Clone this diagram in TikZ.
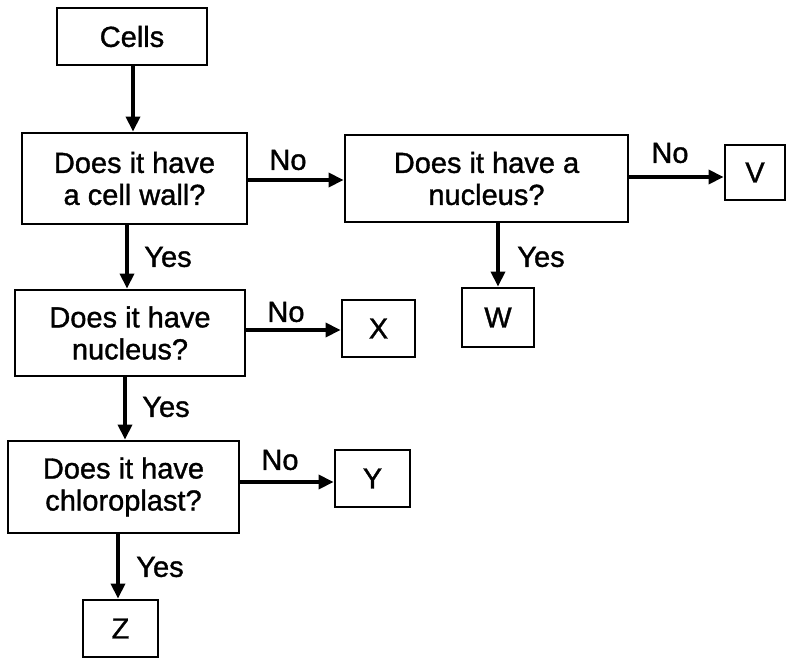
\documentclass[tikz,border=0pt]{standalone}
\usepackage{fontspec}
\newfontfamily\dfont{Liberation Sans}[FakeBold=1.2]
\usetikzlibrary{arrows.meta}
\begin{document}
\begin{tikzpicture}[x=1pt,y=-1pt,
  box/.style={draw, line width=2.8pt, rectangle, align=center, inner sep=0pt,
    font=\dfont\fontsize{29}{32}\selectfont},
  arr/.style={line width=3.4pt, -{Triangle[length=15pt,width=14pt]}},
  lbl/.style={font=\dfont\fontsize{29}{32}\selectfont, inner sep=0pt}]
\useasboundingbox (0,0) rectangle (790,659);
\node[box, minimum width=150pt, minimum height=57pt] (cells) at (132,36.5) {Cells};
\node[box, minimum width=225pt, minimum height=91pt] (wall) at (134.5,178.5) {Does it have\\a cell wall?};
\node[box, minimum width=283pt, minimum height=87pt] (nuca) at (486.5,178.5) {Does it have a\\nucleus?};
\node[box, minimum width=60pt, minimum height=55pt] (v) at (755,172.5) {V};
\node[box, minimum width=72pt, minimum height=59pt] (w) at (498,317.5) {W};
\node[box, minimum width=230pt, minimum height=86pt] (nucb) at (130,333) {Does it have\\nucleus?};
\node[box, minimum width=73pt, minimum height=57pt] (x) at (378.5,328.5) {X};
\node[box, minimum width=231pt, minimum height=92pt] (chl) at (123.5,487) {Does it have\\chloroplast?};
\node[box, minimum width=75pt, minimum height=57pt] (y) at (372.5,478.5) {Y};
\node[box, minimum width=75pt, minimum height=57pt] (z) at (120.5,628.5) {Z};

\coordinate (c1) at (133,0);
\draw[arr] (cells.south -| c1) -- (wall.north -| c1);
\coordinate (c2) at (0,180);
\draw[arr] (wall.east |- c2) -- (nuca.west |- c2);
\coordinate (c3) at (0,177);
\draw[arr] (nuca.east |- c3) -- (v.west |- c3);
\draw[arr] (nuca.south -| w) -- (w.north);
\coordinate (c4) at (127,0);
\draw[arr] (wall.south -| c4) -- (nucb.north -| c4);
\coordinate (c5) at (0,330);
\draw[arr] (nucb.east |- c5) -- (x.west |- c5);
\coordinate (c6) at (125,0);
\draw[arr] (nucb.south -| c6) -- (chl.north -| c6);
\coordinate (c7) at (0,482);
\draw[arr] (chl.east |- c7) -- (y.west |- c7);
\coordinate (c8) at (118,0);
\draw[arr] (chl.south -| c8) -- (z.north -| c8);

\node[lbl] (l1) at (288,160) {No};
\node[lbl] (l2) at (670,153) {No};
\node[lbl] (l3) at (541,257) {Yes};
\node[lbl] (l4) at (168,257) {Yes};
\node[lbl] (l5) at (286,312) {No};
\node[lbl] (l6) at (166,407) {Yes};
\node[lbl] (l7) at (280,460) {No};
\node[lbl] (l8) at (160,567) {Yes};
\end{tikzpicture}
\end{document}
